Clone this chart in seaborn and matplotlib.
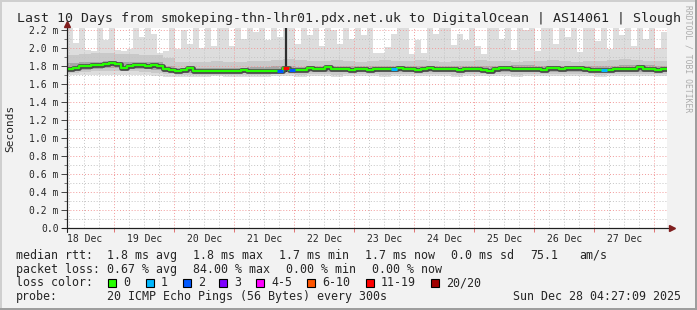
import numpy as np
import pandas as pd
import matplotlib
matplotlib.use("Agg")
import matplotlib.pyplot as plt
import seaborn as sns
from matplotlib.patches import Rectangle

# ---------------- data ----------------
title = "Last 10 Days from smokeping-thn-lhr01.pdx.net.uk to DigitalOcean | AS14061 | Slough"
day_labels = ["18 Dec", "19 Dec", "20 Dec", "21 Dec", "22 Dec",
              "23 Dec", "24 Dec", "25 Dec", "26 Dec", "27 Dec"]
start_hour = 5.08          # left edge, hours after 18 Dec 00:00
span_hours = 240.0         # 10 days
y_ticks = [0.0, 0.2, 0.4, 0.6, 0.8, 1.0, 1.2, 1.4, 1.6, 1.8, 2.0, 2.2]
y_tick_labels = ["0.0", "0.2 m", "0.4 m", "0.6 m", "0.8 m", "1.0 m",
                 "1.2 m", "1.4 m", "1.6 m", "1.8 m", "2.0 m", "2.2 m"]

# median rtt (ms), 100 samples
median_rtt = [
    1.77, 1.78, 1.80, 1.80, 1.81, 1.81, 1.82, 1.83, 1.82, 1.78,
    1.80, 1.81, 1.81, 1.80, 1.81, 1.80, 1.77, 1.755, 1.75, 1.755,
    1.78, 1.75, 1.745, 1.74, 1.74, 1.74, 1.74, 1.745, 1.75, 1.755,
    1.75, 1.745, 1.75, 1.745, 1.74, 1.74, 1.78, 1.755, 1.755, 1.76,
    1.775, 1.765, 1.765, 1.79, 1.77, 1.765, 1.77, 1.76, 1.765, 1.77,
    1.76, 1.77, 1.765, 1.77, 1.765, 1.775, 1.765, 1.77, 1.76, 1.77,
    1.775, 1.765, 1.77, 1.765, 1.77, 1.76, 1.765, 1.77, 1.765, 1.755,
    1.75, 1.765, 1.775, 1.775, 1.77, 1.765, 1.765, 1.765, 1.765, 1.755,
    1.775, 1.775, 1.77, 1.775, 1.775, 1.775, 1.765, 1.76, 1.76, 1.755,
    1.76, 1.765, 1.77, 1.765, 1.765, 1.79, 1.77, 1.765, 1.76, 1.765]

# maximum ping of each sample (ms), 100 samples (values above the plot are clipped)
max_rtt = [
    2.30, 2.06, 2.30, 1.98, 1.97, 2.30, 2.09, 2.30, 1.98, 1.97,
    1.99, 2.30, 2.12, 2.30, 2.16, 1.95, 1.97, 2.30, 1.99, 2.20,
    2.05, 2.30, 2.00, 2.30, 2.02, 2.30, 2.25, 2.02, 2.30, 2.10,
    2.30, 2.18, 2.30, 2.09, 2.30, 2.12, 2.30, 2.30, 2.05, 2.30,
    2.14, 2.30, 2.02, 2.30, 2.20, 2.05, 2.30, 2.10, 2.30, 2.14,
    2.30, 1.94, 1.95, 2.01, 2.16, 2.30, 2.30, 1.93, 2.09, 1.94,
    2.30, 2.16, 2.30, 2.30, 2.03, 2.16, 2.09, 2.30, 2.02, 1.93,
    2.30, 2.30, 2.10, 2.30, 1.98, 2.30, 2.20, 2.30, 1.97, 2.30,
    2.30, 2.05, 2.30, 2.12, 2.30, 1.96, 2.30, 2.30, 2.08, 2.30,
    1.99, 2.30, 2.14, 2.30, 2.02, 2.30, 2.10, 2.30, 2.00, 2.18]

# inner smoke percentiles, 50 samples
min_rtt = [
    1.70, 1.70, 1.70, 1.70, 1.70, 1.70, 1.70, 1.69, 1.68, 1.68,
    1.68, 1.68, 1.69, 1.68, 1.68, 1.68, 1.68, 1.69, 1.69, 1.68,
    1.69, 1.69, 1.68, 1.69, 1.69, 1.69, 1.68, 1.69, 1.69, 1.69,
    1.69, 1.69, 1.68, 1.69, 1.69, 1.69, 1.69, 1.68, 1.69, 1.69,
    1.69, 1.69, 1.69, 1.69, 1.68, 1.69, 1.69, 1.69, 1.69, 1.69]
p05_rtt = [
    1.72, 1.73, 1.74, 1.74, 1.74, 1.74, 1.73, 1.72, 1.71, 1.70,
    1.70, 1.70, 1.70, 1.70, 1.70, 1.70, 1.70, 1.71, 1.71, 1.70,
    1.71, 1.71, 1.70, 1.71, 1.71, 1.71, 1.70, 1.71, 1.71, 1.71,
    1.71, 1.71, 1.70, 1.71, 1.71, 1.71, 1.71, 1.70, 1.71, 1.71,
    1.71, 1.71, 1.71, 1.71, 1.70, 1.71, 1.71, 1.71, 1.71, 1.71]
p15_rtt = [
    1.75, 1.76, 1.77, 1.78, 1.78, 1.77, 1.77, 1.76, 1.73, 1.72,
    1.72, 1.72, 1.72, 1.72, 1.72, 1.72, 1.72, 1.73, 1.73, 1.73,
    1.73, 1.73, 1.73, 1.73, 1.73, 1.73, 1.73, 1.73, 1.73, 1.73,
    1.73, 1.73, 1.73, 1.73, 1.73, 1.73, 1.73, 1.73, 1.73, 1.73,
    1.73, 1.73, 1.73, 1.73, 1.73, 1.73, 1.73, 1.73, 1.73, 1.73]
p85_rtt = [
    1.83, 1.84, 1.85, 1.86, 1.85, 1.84, 1.84, 1.84, 1.80, 1.78,
    1.78, 1.78, 1.78, 1.78, 1.78, 1.79, 1.79, 1.80, 1.80, 1.79,
    1.80, 1.80, 1.80, 1.80, 1.80, 1.80, 1.80, 1.80, 1.80, 1.80,
    1.80, 1.80, 1.80, 1.80, 1.80, 1.80, 1.80, 1.81, 1.81, 1.80,
    1.80, 1.80, 1.80, 1.80, 1.80, 1.80, 1.81, 1.81, 1.81, 1.80]
p95_rtt = [
    1.92, 1.93, 1.94, 1.94, 1.93, 1.93, 1.92, 1.92, 1.89, 1.85,
    1.84, 1.85, 1.86, 1.85, 1.85, 1.86, 1.86, 1.87, 1.88, 1.87,
    1.86, 1.86, 1.87, 1.86, 1.85, 1.86, 1.87, 1.86, 1.86, 1.87,
    1.86, 1.85, 1.86, 1.86, 1.87, 1.86, 1.86, 1.85, 1.86, 1.86,
    1.87, 1.86, 1.85, 1.86, 1.86, 1.87, 1.88, 1.87, 1.86, 1.86]

# packet loss (pings lost out of 20) per median sample
loss_bins = [35, 36, 37, 54, 89]
loss_counts = [2, 15, 2, 1, 1]
spike_bin = 36
spike_top = 2.60

loss_labels = ["0", "1", "2", "3", "4-5", "6-10", "11-19", "20/20"]
loss_colors = ["#26ff00", "#00b8ff", "#0059ff", "#7e00ff",
               "#ff00ff", "#ff5500", "#ff0000", "#a10000"]
loss_limits = [0, 1, 2, 3, 5, 10, 19, 20]

row1 = [("median rtt:", 16), ("1.8 ms avg", 107), ("1.8 ms max", 193),
        ("1.7 ms min", 279), ("1.7 ms now", 365), ("0.0 ms sd", 451),
        ("75.1", 530), ("am/s", 579)]
row2 = [("packet loss:", 16), ("0.67 % avg", 107), ("84.00 % max", 193),
        ("0.00 % min", 286), ("0.00 % now", 372)]
probe_text = "20 ICMP Echo Pings (56 Bytes) every 300s"
date_text = "Sun Dec 28 04:27:09 2025"

# ---------------- drawing ----------------
W, H = 697, 310
sns.set_theme(style="white")
plt.rcParams["font.family"] = ["DejaVu Sans Mono", "DejaVu Sans"]
MONO = "DejaVu Sans Mono"

fig = plt.figure(figsize=(W / 100, H / 100), dpi=100, facecolor="#f2f2f2")
ax_left, ax_right, ax_top, ax_bot = 67, 667, 28, 228
ax = fig.add_axes([ax_left / W, (H - ax_bot) / H,
                   (ax_right - ax_left) / W, (ax_bot - ax_top) / H])
ax.set_facecolor("white")
x0, x1 = start_hour, start_hour + span_hours
ymax = (ax_bot - ax_top) / 90.0
ax.set_xlim(x0, x1)
ax.set_ylim(0, ymax)

n100 = len(median_rtt)
edges100 = np.linspace(x0, x1, n100 + 1)
n50 = len(min_rtt)
edges50 = np.linspace(x0, x1, n50 + 1)

# smoke
ax.stairs(max_rtt, edges100, baseline=np.repeat(min_rtt, 2), fill=True,
          color="#dddddd", zorder=1, lw=0)
ax.stairs(p95_rtt, edges50, baseline=p05_rtt, fill=True, color="#c9c9c9", zorder=1.1, lw=0)
ax.stairs(p85_rtt, edges50, baseline=p15_rtt, fill=True, color="#a6a6a6", zorder=1.2, lw=0)

# grid (on top of smoke)
grid_minor = dict(color="#c4c4c4", lw=0.7, linestyle=(0, (1, 2)), zorder=2)
grid_major = dict(color="#f29a9a", lw=0.7, linestyle=(0, (1, 2)), zorder=2.1)
for h in np.arange(6, 250, 6):
    if x0 < h < x1 and h % 24 != 0:
        ax.axvline(h, **grid_minor)
for v in np.arange(0.1, ymax, 0.2):
    ax.axhline(v, **grid_minor)
for h in np.arange(24, 250, 24):
    if x0 < h < x1:
        ax.axvline(h, **grid_major)
for v in y_ticks[1:]:
    ax.axhline(v, **grid_major)

# spike sample
centers100 = (edges100[:-1] + edges100[1:]) / 2
ax.vlines(centers100[spike_bin], p15_rtt[spike_bin // 2], spike_top,
          color="#2e2e2e", lw=1.6, zorder=3)

# median line
df = pd.DataFrame({"t": edges100, "rtt": list(median_rtt) + [median_rtt[-1]]})
sns.lineplot(data=df, x="t", y="rtt", ax=ax, drawstyle="steps-post",
             color="#4a4a4a", lw=3.4, zorder=3.5, legend=False)
sns.lineplot(data=df, x="t", y="rtt", ax=ax, drawstyle="steps-post",
             color=loss_colors[0], lw=1.6, zorder=4, legend=False)
for b, c in zip(loss_bins, loss_counts):
    idx = next(i for i, lim in enumerate(loss_limits) if c <= lim)
    ax.hlines(median_rtt[b], edges100[b], edges100[b + 1],
              color=loss_colors[idx], lw=2.2, zorder=4.5)

ax.set_xlabel("")
ax.set_ylabel("")

# ticks
noons = [24 * i + 12 for i in range(len(day_labels))]
ax.set_xticks(noons, day_labels)
ax.tick_params(axis="x", which="major", length=0, pad=4, labelsize=7,
               labelfontfamily=MONO)
ax.set_xticks([24 * i for i in range(1, 11)], minor=True)
ax.tick_params(axis="x", which="minor", length=3, width=0.7, color="#e07070",
               direction="out", bottom=True)
ax.set_yticks(y_ticks, y_tick_labels)
ax.tick_params(axis="y", which="major", length=4, width=0.7, color="#444444",
               pad=2, labelsize=7, labelfontfamily=MONO, left=True)
ax.set_yticks(np.arange(0.1, 2.3, 0.2), minor=True)
ax.tick_params(axis="y", which="minor", length=2, width=0.7, color="#777777", left=True)

for s in ["top", "right"]:
    ax.spines[s].set_visible(False)
for s in ["left", "bottom"]:
    ax.spines[s].set_color("#1f1f1f")
    ax.spines[s].set_linewidth(0.8)
    ax.spines[s].set_zorder(6)

# axis extensions and arrows
ax.plot([-0.008, 1.006], [0, 0], transform=ax.transAxes, color="#1f1f1f",
        lw=0.8, clip_on=False, zorder=6)
ax.plot([1.008], [0], marker=">", ms=4.5, color="#801f1f", transform=ax.transAxes,
        clip_on=False, zorder=7, mec="#801f1f")
ax.plot([0, 0], [-0.02, 1.01], transform=ax.transAxes, color="#1f1f1f",
        lw=0.8, clip_on=False, zorder=6)
ax.plot([0], [1.02], marker="^", ms=4.5, color="#801f1f", transform=ax.transAxes,
        clip_on=False, zorder=7, mec="#801f1f")

# texts
def ftext(x, y, s, **kw):
    kw.setdefault("family", MONO)
    fig.text(x / W, 1 - y / H, s, **kw)

ftext(W / 2 + 0.5, 22, title, ha="center", va="baseline", fontsize=9.55)
ftext(10, 128, "Seconds", rotation=90, ha="center", va="center", fontsize=8)
ftext(688, 59, "RRDTOOL / TOBI OETIKER", rotation=270, ha="center", va="center",
      fontsize=5.8, color="#acacac")

for s, x in row1:
    ftext(x, 259, s, ha="left", va="baseline", fontsize=8.4)
for s, x in row2:
    ftext(x, 272.7, s, ha="left", va="baseline", fontsize=8.4)
ftext(16, 286.4, "loss color:", ha="left", va="baseline", fontsize=8.4)
sq_x = [108, 146, 183, 219, 256, 307, 366, 431]
for lab, col, x in zip(loss_labels, loss_colors, sq_x):
    fig.add_artist(Rectangle((x / W, 1 - 287 / H), 8 / W, 8 / H,
                             transform=fig.transFigure, facecolor=col,
                             edgecolor="black", lw=0.8))
    ftext(x + 15, 286.4, lab, ha="left", va="baseline", fontsize=8.4)
ftext(16, 300, "probe:", ha="left", va="baseline", fontsize=8.4)
ftext(107, 300, probe_text, ha="left", va="baseline", fontsize=8.4)
ftext(513, 300, date_text, ha="left", va="baseline", fontsize=8.4)

# 3D frame
fig.add_artist(Rectangle((0, 1 - 2 / H), 1, 2 / H, transform=fig.transFigure,
                         facecolor="#cfcfcf", lw=0))
fig.add_artist(Rectangle((0, 0), 2 / W, 1, transform=fig.transFigure,
                         facecolor="#cfcfcf", lw=0))
fig.add_artist(Rectangle((0, 0), 1, 2 / H, transform=fig.transFigure,
                         facecolor="#9e9e9e", lw=0))
fig.add_artist(Rectangle((1 - 2 / W, 0), 2 / W, 1, transform=fig.transFigure,
                         facecolor="#9e9e9e", lw=0))

fig.savefig("out.png", dpi=100, facecolor=fig.get_facecolor())
